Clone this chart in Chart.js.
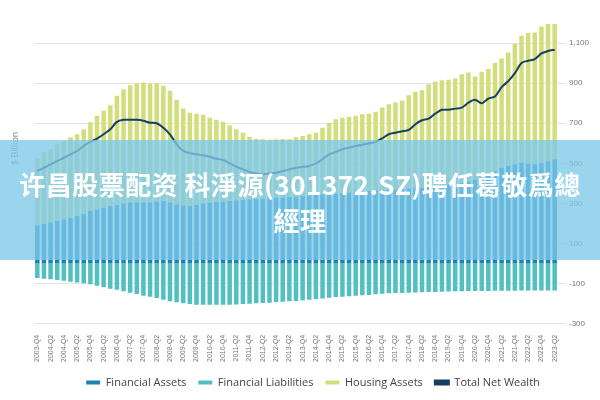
<!DOCTYPE html>
<html><head><meta charset="utf-8">
<script src="https://cdn.jsdelivr.net/npm/chart.js@4"></script>
<style>
body{margin:0;width:600px;height:400px;background:#fff;overflow:hidden;font-family:"Open Sans",sans-serif}
#wrap{position:absolute;left:0;top:0;width:600px;height:400px}
#banner{position:absolute;left:0;top:140px;width:600px;height:120px;background:rgba(125,200,232,0.78);color:#fff;font-family:"Noto Sans CJK SC";font-weight:bold;font-size:26px;line-height:36px;text-align:center;padding-top:26px;box-sizing:border-box;letter-spacing:0.5px}
#ytitle{position:absolute;left:8px;transform:rotate(-90deg);transform-origin:left top;font-size:9px;color:#777}
</style></head><body>
<div id="wrap"><canvas id="c" width="600" height="400"></canvas></div>
<div id="ytitle" style="top:165px">$ Billion</div>
<div id="banner">许昌股票配资 科淨源(301372.SZ)聘任葛敬爲總<br>經理</div>
<script>
const startYear=2003, startQ=4, nQ=79;
const labels=[];
for(let i=0;i<nQ;i++){const q=(startQ-1+i)%4+1, y=startYear+Math.floor((startQ-1+i)/4);labels.push(y+'-Q'+q);}
const financialAssets=[190,198,205,212,220,228,238,248,262,270,278,287,292,298,303,305,305,303,310,312,305,295,290,287,292,298,303,307,310,312,315,317,320,322,324,326,328,330,332,334,337,340,343,345,348,350,352,355,358,360,362,364,366,368,370,372,374,376,378,380,385,390,395,400,403,410,420,430,445,460,478,487,495,503,498,495,500,510,520];
const housingAssets=[333,357,365,383,392,402,407,422,443,467,484,503,545,572,587,593,598,595,590,575,557,522,483,466,456,444,425,410,397,378,355,336,313,301,296,292,292,292,288,296,299,305,310,333,355,370,376,378,379,385,386,393,412,427,433,440,466,481,487,515,522,525,522,523,542,543,513,527,525,540,545,566,600,634,652,658,683,685,675];
const financialLiabilities=[-72,-75,-78,-82,-86,-90,-94,-98,-103,-110,-118,-125,-130,-138,-145,-152,-160,-165,-172,-180,-188,-193,-198,-202,-205,-205,-205,-205,-205,-205,-204,-202,-200,-198,-197,-195,-192,-190,-188,-186,-184,-180,-177,-174,-170,-167,-165,-163,-160,-158,-156,-153,-150,-148,-147,-146,-145,-144,-143,-142,-141,-140,-139,-138,-138,-137,-137,-136,-136,-135,-135,-135,-135,-134,-134,-134,-134,-134,-134];
const netWealth=[462,478,495,512,528,545,562,587,607,623,645,670,707,717,717,717,712,703,700,678,645,595,562,550,545,540,533,523,517,500,483,470,457,450,445,450,453,462,470,478,482,487,500,520,545,557,570,578,587,593,600,607,625,645,653,660,667,695,715,723,748,767,767,773,778,803,817,800,823,833,880,910,950,1000,1012,1020,1048,1060,1067];
const yTicks=[-300,-100,100,300,500,700,900,1100];
const bar={type:'bar',stack:'s',barPercentage:0.68,categoryPercentage:1,order:2};
new Chart(document.getElementById('c'),{
 data:{labels,datasets:[
  {...bar,label:'Financial Assets',data:financialAssets,backgroundColor:'#1a84b4'},
  {...bar,label:'Financial Liabilities',data:financialLiabilities,backgroundColor:'#52c0c0'},
  {...bar,label:'Housing Assets',data:housingAssets,backgroundColor:'#d2de7c'},
  {type:'line',label:'Total Net Wealth',data:netWealth,borderColor:'#173e63',backgroundColor:'#173e63',borderWidth:2,pointRadius:0,tension:0.3,order:1}
 ]},
 options:{responsive:false,animation:false,
  layout:{padding:{left:34,right:8,top:23,bottom:2}},
  plugins:{legend:{position:'bottom',labels:{sort:(a,b)=>a.datasetIndex-b.datasetIndex,boxWidth:14,boxHeight:4,font:{size:11,family:'Open Sans'},color:'#444',padding:12}},tooltip:{enabled:false}},
  scales:{
   x:{stacked:true,grid:{display:false},border:{display:false},
      ticks:{autoSkip:false,maxRotation:90,minRotation:90,font:{size:7},color:'#777',callback:(v,i)=>i%2===0?labels[i]:''}},
   y:{stacked:true,position:'right',min:-300,max:1200,
      afterBuildTicks:a=>{a.ticks=yTicks.map(v=>({value:v}));},
      grid:{color:'#e3e3e3'},border:{display:false},
      ticks:{font:{size:8},color:'#777',callback:v=>v.toLocaleString('en-US')}}
  }}
});
</script></body></html>
